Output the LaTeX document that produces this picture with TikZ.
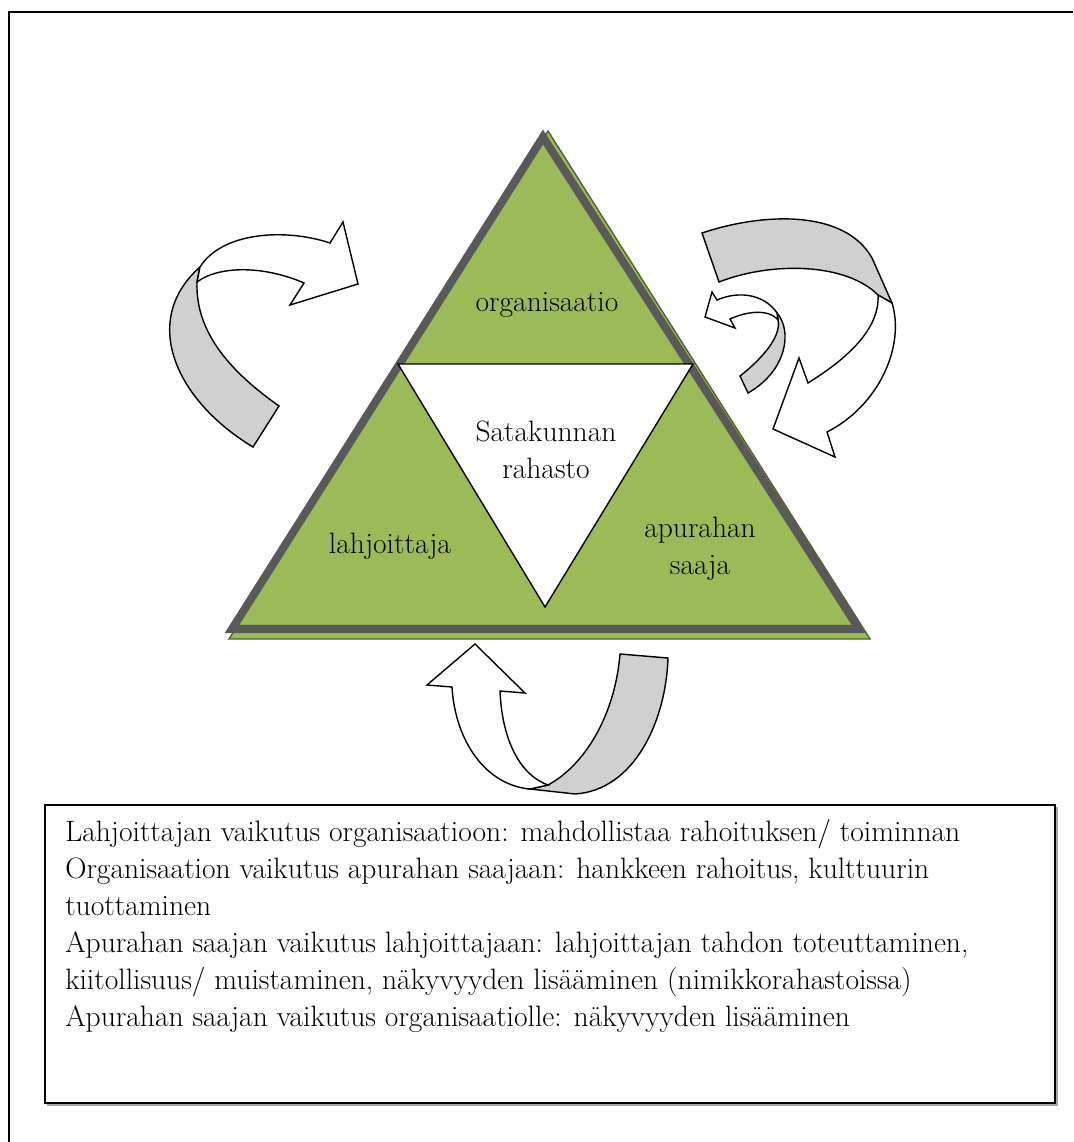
\documentclass[tikz,border=0pt]{standalone}
\usepackage{fontspec}
\usepackage{xcolor}
\usepackage{tikz}
\usetikzlibrary{positioning}

\definecolor{leafgreen}{HTML}{9BBB59}
\definecolor{rimgray}{HTML}{595959}
\definecolor{olivedark}{HTML}{4F6228}
\definecolor{ribbongray}{HTML}{D0D0D0}

\begin{document}
\begin{tikzpicture}[
		x=0.025cm, y=-0.025cm,
		partnode/.style={font=\fontsize{21}{26.3}\selectfont, align=center, inner sep=0pt},
		frontarrow/.style={draw=black, fill=white, line width=1pt, line join=miter},
		backribbon/.style={draw=black, fill=ribbongray, line width=1pt, line join=miter},
	]

		% page
		\useasboundingbox (0,0) rectangle (1073,1142);
		\draw[line width=1.6pt] (9,1142) -- (9,12) -- (1073,12);

		% triangles
		\filldraw[fill=leafgreen, draw=olivedark, line width=1pt] (548,131) -- (229,639) -- (870,639) -- cycle;
		\filldraw[fill=leafgreen, draw=rimgray, line width=5.7pt, line join=miter] (543,137) -- (232,629) -- (859,629) -- cycle;
		\filldraw[fill=white, draw=black, line width=1pt] (398,364) -- (693,364) -- (545,607) -- cycle;

		% nodes
		\node[partnode] (org)		at (547,305)	{organisaatio};
		\node[partnode] (fund)		at (546,450)	{Satakunnan\\rahasto};
		\node[partnode] (donor)		at (390,546)	{lahjoittaja};
		\node[partnode] (grantee)	at (700,549)	{apurahan\\saaja};

		% arrows
		\draw[backribbon] (253,447) .. controls (175,400) and (140,320) .. (200,267) -- (197,282) .. controls (195,335) and (235,375) .. (279,406) -- cycle;
		\draw[frontarrow] (200,267) .. controls (222,232) and (285,228) .. (330,243) -- (343,222) -- (358,284) -- (290,305) -- (304,283) .. controls (265,266) and (220,265) .. (197,282) -- cycle;

		\draw[backribbon] (702,233) .. controls (765,212) and (845,210) .. (872,258) -- (892,303) -- (878,295) .. controls (845,262) and (770,262) .. (719,282) -- cycle;
		\draw[frontarrow] (892,303) .. controls (905,345) and (880,405) .. (827,432) -- (835,457) -- (773,429) -- (799,358) -- (808,383) .. controls (845,360) and (880,330) .. (878,295) -- cycle;

		\draw[backribbon] (740,376) .. controls (758,362) and (782,338) .. (778,320) -- (777,313) .. controls (792,330) and (788,370) .. (748,393) -- cycle;
		\draw[frontarrow] (777,313) .. controls (765,295) and (740,290) .. (717,300) -- (712,292) -- (705,317) -- (735,328) -- (730,319) .. controls (745,312) and (768,308) .. (778,320) -- cycle;

		\draw[backribbon] (620,654) -- (668,658) .. controls (666,720) and (635,790) .. (575,794) -- (530,789) -- (548,785) .. controls (585,765) and (615,715) .. (620,654) -- cycle;
		\draw[frontarrow] (530,789) .. controls (485,785) and (455,740) .. (452,687) -- (427,685) -- (475,644) -- (525,693) -- (500,691) .. controls (502,740) and (520,775) .. (548,785) -- cycle;

		% effects box
		\draw[gray!70, line width=1pt] (47,1105) -- (1057,1105) -- (1057,807);
		\node[draw=black, fill=white, line width=1pt, minimum width=718.4pt, minimum height=212pt, inner sep=0pt] (effectbox) at (550,954) {};
		\node[anchor=north west, align=left, inner sep=0pt, font=\fontsize{21}{26.3}\selectfont] (effects) at (65,819) {%
			Lahjoittajan vaikutus organisaatioon: mahdollistaa rahoituksen/ toiminnan\\
			Organisaation vaikutus apurahan saajaan: hankkeen rahoitus, kulttuurin\\
			tuottaminen\\
			Apurahan saajan vaikutus lahjoittajaan: lahjoittajan tahdon toteuttaminen,\\
			kiitollisuus/ muistaminen, näkyvyyden lisääminen (nimikkorahastoissa)\\
			Apurahan saajan vaikutus organisaatiolle: näkyvyyden lisääminen};
	\end{tikzpicture}
\end{document}
